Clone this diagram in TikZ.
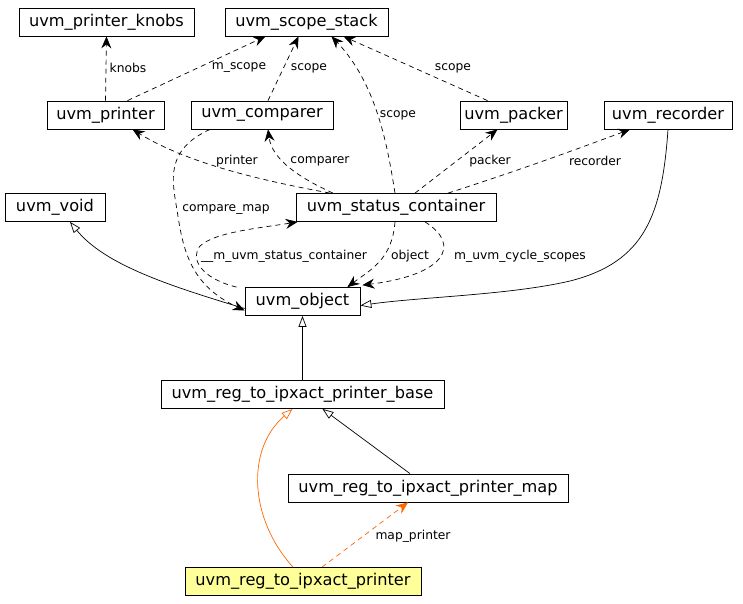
\documentclass[tikz,border=0pt]{standalone}
\usepackage{fontspec}
\setmainfont{DejaVu Sans}
\usetikzlibrary{arrows.meta,positioning}
\definecolor{edgeorange}{HTML}{FF6600}
\definecolor{mainyellow}{HTML}{FFFF99}
\tikzset{
  cls/.style={draw=black, line width=0.8pt, rectangle, inner sep=0pt, minimum height=28pt,
    font=\fontsize{16.2}{17}\selectfont, fill=white},
  use/.style={draw=black, line width=0.7pt, dash pattern=on 5pt off 4pt, -{Stealth[length=12pt,width=10pt,inset=4pt]}},
  inh/.style={draw=black, line width=0.7pt, -{Triangle[open,length=11pt,width=8pt]}},
  lbl/.style={font=\fontsize{12.3}{13}\selectfont, inner sep=1pt},
}
\begin{document}
\begin{tikzpicture}[x=1pt,y=-1pt]
\useasboundingbox (0,0) rectangle (743,603);
% nodes
\node[cls, minimum width=175pt] (knobs) at (106.5,22) {uvm\_printer\_knobs};
\node[cls, minimum width=163pt] (stack) at (306.5,22) {uvm\_scope\_stack};
\node[cls, minimum width=117pt] (printer) at (105.5,115) {uvm\_printer};
\node[cls, minimum width=142pt] (comparer) at (262,115) {uvm\_comparer};
\node[cls, minimum width=107pt] (packer) at (513.5,115) {uvm\_packer};
\node[cls, minimum width=128pt] (recorder) at (668,115) {uvm\_recorder};
\node[cls, minimum width=100pt] (void) at (55,207.5) {uvm\_void};
\node[cls, minimum width=200pt] (status) at (396,207.5) {uvm\_status\_container};
\node[cls, minimum width=115pt] (object) at (302.5,301.5) {uvm\_object};
\node[cls, minimum width=283pt] (base) at (302.5,394.5) {uvm\_reg\_to\_ipxact\_printer\_base};
\node[cls, minimum width=280pt] (map) at (428,488) {uvm\_reg\_to\_ipxact\_printer\_map};
\node[cls, minimum width=236pt, fill=mainyellow] (main) at (303,581.5) {uvm\_reg\_to\_ipxact\_printer};

% usage edges, top part
\draw[use] (printer.north) -- (knobs.south);
\node[lbl] (lknobs) at (128,68) {knobs};
\draw[use] ([xshift=22pt]printer.north) -- ([xshift=-41pt]stack.south);
\node[lbl] (lmscope) at (239,68) {m\_scope};
\draw[use] ([xshift=6pt]comparer.north) -- ([xshift=-8pt]stack.south);
\node[lbl] (lscope1) at (309,68) {scope};
\draw[use] ([xshift=-1pt]status.north) .. controls (388,150) and (378,85) .. ([xshift=25pt]stack.south);
\node[lbl] (lscope2) at (398,115) {scope};
\draw[use] ([xshift=-26pt]packer.north) -- ([xshift=37pt]stack.south);
\node[lbl] (lscope3) at (453,68) {scope};

% status container to members
\draw[use] ([xshift=-66pt]status.north) .. controls (270,182) and (190,165) .. ([xshift=27pt]printer.south);
\node[lbl] (lprinter) at (237,161) {printer};
\draw[use] ([xshift=-63pt]status.north) .. controls (300,178) and (272,160) .. ([xshift=6pt]comparer.south);
\node[lbl] (lcomparer) at (320,161) {comparer};
\draw[use] ([xshift=19pt]status.north) -- ([xshift=-16pt]packer.south);
\node[lbl] (lpacker) at (490,161) {packer};
\draw[use] ([xshift=52pt]status.north) .. controls (520,170) and (580,148) .. ([xshift=-38pt]recorder.south);
\node[lbl] (lrecorder) at (595,161) {recorder};

% to/from uvm_object
\draw[use] ([xshift=-52pt]comparer.south) .. controls (165,150) and (172,180) .. (177,210) .. controls (183,250) and (190,285) .. ([yshift=-9pt]object.west);
\node[lbl] (lcmap) at (226,209) {compare\_map};
\draw[use] ([xshift=-8pt]object.north west) .. controls (200,278) and (190,258) .. (200,246) .. controls (215,232) and (260,228) .. ([xshift=2pt]status.south west);
\node[lbl] (lmuvm) at (284,256) {\_\_m\_uvm\_status\_container};
\draw[use] ([xshift=-1pt]status.south) .. controls (392,260) and (370,270) .. ([xshift=-13pt]object.north east);
\node[lbl] (lobject) at (410,256) {object};
\draw[use] ([xshift=29pt]status.south) .. controls (462,245) and (445,275) .. ([xshift=2pt,yshift=2pt]object.north east);
\node[lbl] (lcycle) at (520,256) {m\_uvm\_cycle\_scopes};

% inheritance
\draw[inh] ([yshift=-7pt]object.west) .. controls (170,286) and (105,265) .. ([xshift=15pt]void.south);
\draw[inh] (recorder.south) .. controls (662,215) and (645,262) .. (570,281) .. controls (510,295) and (420,297) .. ([yshift=-4pt]object.east);
\draw[inh] (base.north) -- (object.south);
\draw[inh] ([xshift=-18pt]map.north) -- ([xshift=20pt]base.south);
\draw[inh, draw=edgeorange] ([xshift=-10pt]main.north) .. controls (250,520) and (245,450) .. ([xshift=-10pt]base.south);
\draw[use, draw=edgeorange] ([xshift=19pt]main.north) -- ([xshift=-20pt]map.south);
\node[lbl] (lmapp) at (413,536) {map\_printer};
\end{tikzpicture}
\end{document}
